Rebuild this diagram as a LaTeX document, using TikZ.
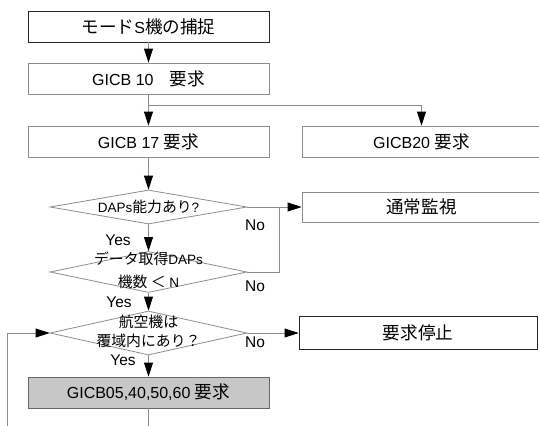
\documentclass[tikz,border=0pt]{standalone}
\usepackage{fontspec}
\setmainfont{Liberation Sans}
\newfontfamily\jp{Noto Sans CJK JP}[Scale=1.1]
\usetikzlibrary{arrows.meta,shapes.geometric}

\begin{document}
\begin{tikzpicture}[x=1pt, y=-1pt,
    line/.style = {draw=black!45, line width=0.8pt},
    arr/.style = {line, -{Triangle[length=14pt, width=9pt, color=black]}},
    box/.style = {draw=black!45, line width=0.8pt, inner sep=0pt,
      minimum width=241pt, minimum height=31pt,
      font=\fontsize{16}{18}\selectfont},
    dia/.style = {diamond, draw=black!45, line width=0.8pt, inner sep=0pt,
      minimum width=197pt},
    dtext/.style = {align=center, inner sep=0pt},
    yn/.style = {inner sep=0pt, font=\fontsize{15.5}{18}\selectfont}]
  \useasboundingbox (0,0) rectangle (539,426);
  \clip (0,0) rectangle (539,426);
  % left column
  \node[box, draw=black!85] (capt) at (148.5,26.5) {{\jp モード}S{\jp 機の捕捉}};
  \node[box] (g10) at (148.5,78.5) {GICB 10\quad{\jp 要求}};
  \node[box] (g17) at (148.5,141.5) {GICB 17 {\jp 要求}};
  \node[dia, minimum height=34pt] (dap) at (148.5,207) {};
  \node[dtext, font=\fontsize{13.5}{15}\selectfont] (dapt) at (dap)
    {DAPs{\jp 能力あり}?};
  \node[dia, minimum height=41pt] (cnt) at (148.5,272) {};
  \node[dtext, font=\fontsize{13.5}{23}\selectfont] (cntt) at (148.5,270)
    {{\jp データ取得}DAPs\\{\jp 機数 ＜} N};
  \node[dia, minimum height=44pt] (cov) at (148.5,333) {};
  \node[dtext, font=\fontsize{13.5}{19}\selectfont] (covt) at (148.5,331)
    {{\jp 航空機は}\\{\jp 覆域内にあり？}};
  \node[box, fill=black!22, draw=black!60] (req) at (148.5,392.5)
    {GICB05,40,50,60 {\jp 要求}};
  % right column
  \node[box, minimum width=239pt] (g20) at (421.5,141.5) {GICB20 {\jp 要求}};
  \node[box, minimum width=239pt, minimum height=30pt] (norm) at (421.5,207)
    {{\jp 通常監視}};
  \node[box, draw=black!85, minimum width=238pt, minimum height=33pt] (stop)
    at (418,333) {{\jp 要求停止}};
  % labels
  \node[yn] (yes1) at (118,240) {Yes};
  \node[yn] (yes2) at (119,302) {Yes};
  \node[yn] (yes3) at (123,360) {Yes};
  \node[yn] (no1) at (255,225) {No};
  \node[yn] (no2) at (255,286) {No};
  \node[yn] (no3) at (255,342) {No};
  % connectors
  \coordinate (fork) at (148.5,105);
  \coordinate (join) at (279,207);
  \coordinate (bot) at (148.5,428);
  \coordinate (loop) at (7.5,428);
  \draw[arr] (capt) -- (g10);
  \draw[arr] (g10) -- (g17);
  \draw[arr] (fork) -| (g20);
  \draw[arr] (g17) -- (dap);
  \draw[arr] (dap) -- (cnt);
  \draw[arr] (cnt) -- (cov);
  \draw[arr] (cov) -- (req);
  \draw[arr] (dap.east) -- (norm.west);
  \draw[line] (cnt.east) -| (join);
  \draw[arr] (cov.east) -- (stop.west);
  \draw[line] (req) -- (bot);
  \draw[arr] (loop) |- (cov.west);
\end{tikzpicture}
\end{document}
